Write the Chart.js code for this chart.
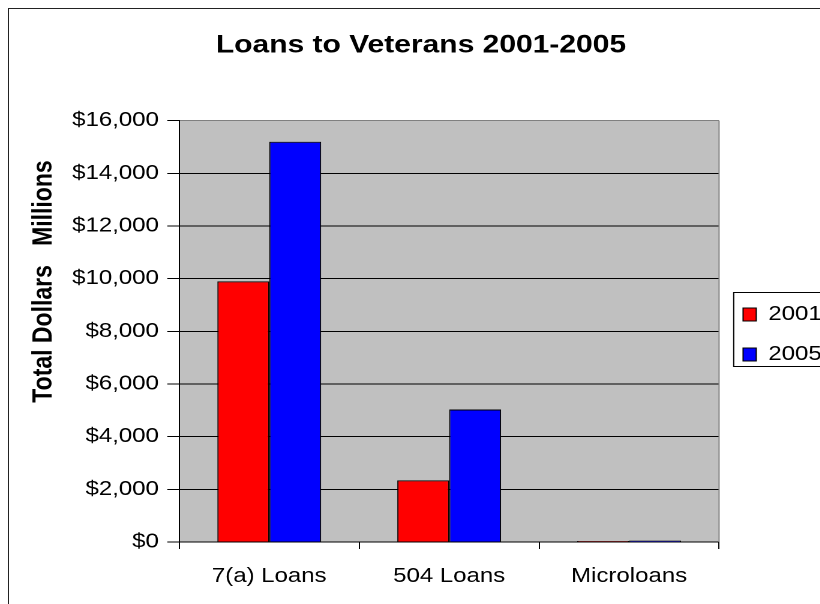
<!DOCTYPE html>
<html>
<head>
<meta charset="utf-8">
<title>Loans to Veterans 2001-2005</title>
<script src="https://cdn.jsdelivr.net/npm/chart.js@4.4.1/dist/chart.umd.min.js"></script>
<style>
  html, body { margin: 0; padding: 0; background: #fff; overflow: hidden; }
  #wrap { position: relative; width: 820px; height: 604px; overflow: hidden; }
  /* chart frame, its right and bottom edges fall outside the view */
  #frame { position: absolute; left: 8px; top: 8px; width: 900px; height: 700px;
           border-left: 1.5px solid #222; border-top: 1.5px solid #222; }
  #myChart { position: absolute; left: 0; top: 0; }
</style>
</head>
<body>
<div id="wrap">
  <div id="frame"></div>
  <!-- drawn at 700 wide, shown 1.2x wider like the old sheet export -->
  <canvas id="myChart" width="700" height="620" style="width:840px;height:620px;"></canvas>
</div>
<script>
var chartTitle = 'Loans to Veterans 2001-2005';
var yTitle = 'Total Dollars   Millions';
var categories = ['7(a) Loans', '504 Loans', 'Microloans'];
var seriesNames = ['2001', '2005'];
var loans2001 = [9900, 2340, 40];
var loans2005 = [15200, 5030, 50];
var yTickValues = [0, 2000, 4000, 6000, 8000, 10000, 12000, 14000, 16000];

var FONT = '"Liberation Sans", Arial, sans-serif';

// grey plot background, grey right edge, axis title and legend box
var backdrop = {
    id: 'backdrop',
    beforeDraw: function (chart) {
        var ctx = chart.ctx;
        var a = chart.chartArea;
        ctx.save();
        ctx.fillStyle = '#C0C0C0';
        ctx.fillRect(a.left, a.top, a.right - a.left, a.bottom - a.top);
        ctx.restore();
    },
    beforeDatasetsDraw: function (chart) {
        var ctx = chart.ctx;
        var a = chart.chartArea;
        ctx.save();
        ctx.strokeStyle = '#808080';
        ctx.lineWidth = 1;
        ctx.beginPath();
        ctx.moveTo(a.right, a.top);
        ctx.lineTo(a.right, a.bottom);
        ctx.stroke();
        ctx.beginPath();
        ctx.restore();
    },
    afterDraw: function (chart) {
        var ctx = chart.ctx;
        var a = chart.chartArea;
        // rotated axis title, sits above the middle of the axis
        ctx.save();
        ctx.translate(a.left - 112.8, a.top + 160.8);
        ctx.rotate(-Math.PI / 2);
        ctx.font = 'bold 23px ' + FONT;
        ctx.fillStyle = '#000';
        ctx.textAlign = 'center';
        ctx.textBaseline = 'middle';
        ctx.fillText(yTitle, 0, 0);
        ctx.restore();

        // box round the legend, its right side is out of view
        var boxes = chart.legend.legendHitBoxes;
        if (boxes && boxes.length) {
            var first = boxes[0];
            var last = boxes[boxes.length - 1];
            var x = first.left - 7.8;
            var y1 = first.top - 12;
            var y2 = last.top + last.height + 2;
            ctx.save();
            ctx.strokeStyle = '#000';
            ctx.lineWidth = 1;
            ctx.beginPath();
            ctx.moveTo(chart.width, y1);
            ctx.lineTo(x, y1);
            ctx.lineTo(x, y2);
            ctx.lineTo(chart.width, y2);
            ctx.stroke();
            ctx.beginPath();
            ctx.restore();
        }
    }
};

new Chart(document.getElementById('myChart'), {
    type: 'bar',
    data: {
        labels: categories,
        datasets: [
            {
                label: seriesNames[0],
                data: loans2001,
                backgroundColor: '#FF0000',
                borderColor: '#000',
                borderWidth: 1
            },
            {
                label: seriesNames[1],
                data: loans2005,
                backgroundColor: '#0000FF',
                borderColor: '#000',
                borderWidth: 1
            }
        ]
    },
    plugins: [backdrop],
    options: {
        responsive: false,
        animation: false,
        devicePixelRatio: 2,
        categoryPercentage: 0.577,
        barPercentage: 1,
        layout: { padding: { left: 6.9, right: 5.3, top: 0, bottom: 0 } },
        plugins: {
            title: {
                display: true,
                text: chartTitle,
                color: '#000',
                font: { family: FONT, size: 25, weight: 'bold', lineHeight: 1.2 },
                padding: { top: 30.5, bottom: 60.2 }
            },
            legend: {
                position: 'right',
                // empty title only pushes the two entries down
                title: { display: true, text: '', font: { size: 5, lineHeight: 1 }, padding: { top: 0, bottom: 44 } },
                labels: {
                    color: '#000',
                    font: { family: FONT, size: 20 },
                    boxWidth: 11,
                    boxHeight: 13,
                    padding: 20
                }
            },
            tooltip: { enabled: false }
        },
        scales: {
            x: {
                grid: {
                    drawOnChartArea: false,
                    drawTicks: true,
                    tickLength: 7,
                    tickColor: '#000'
                },
                border: { color: '#000', width: 1 },
                ticks: {
                    color: '#000',
                    font: { family: FONT, size: 20 },
                    padding: 15.6,
                    maxRotation: 0
                },
                afterFit: function (scale) { scale.height = 78; }
            },
            y: {
                min: 0,
                max: 16000,
                afterBuildTicks: function (scale) {
                    scale.ticks = yTickValues.map(function (v) { return { value: v }; });
                },
                grid: {
                    color: function (c) {
                        return c.tick && c.tick.value === 16000 ? '#808080' : '#000';
                    },
                    tickColor: '#000',
                    tickLength: 10,
                    lineWidth: 1
                },
                border: { color: '#000', width: 1 },
                ticks: {
                    color: '#000',
                    font: { family: FONT, size: 20 },
                    padding: 7,
                    callback: function (v) { return '$' + Number(v).toLocaleString('en-US'); }
                },
                afterFit: function (scale) { scale.width = 142.5; }
            }
        }
    }
});
</script>
</body>
</html>
